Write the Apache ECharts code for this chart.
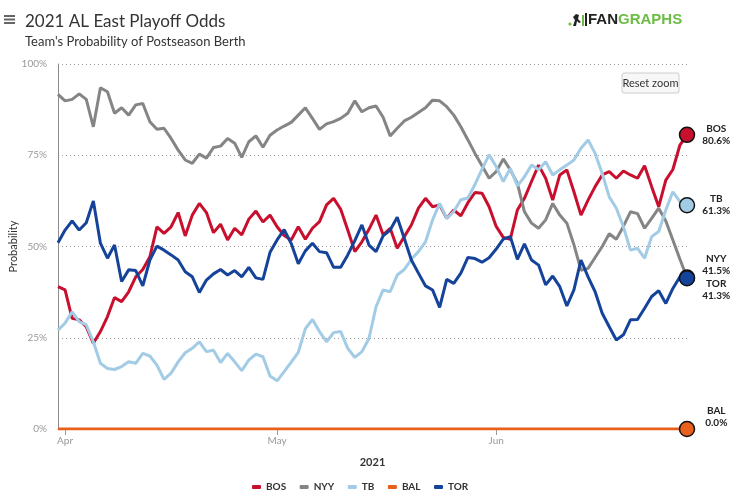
<!DOCTYPE html>
<html><head><meta charset="utf-8">
<script src="https://cdn.jsdelivr.net/npm/echarts@6/dist/echarts.min.js"></script>
<style>html,body{margin:0;padding:0;background:#fff}#c{width:750px;height:504px}</style>
</head><body><div id="c"></div><script>
// Daily playoff odds (%), Mar 31 .. Jun 28, 2021
const firstDay = [2021, 2, 31];
const tickDates = ['2021-04-01', '2021-05-01', '2021-06-01'];
const tickLabels = ['Apr', 'May', 'Jun'];
const teams = ['BOS', 'NYY', 'TB', 'BAL', 'TOR'];
const bos = [39.0,38.1,30.3,29.9,28.0,23.5,26.7,30.8,36.0,34.9,37.6,41.7,43.7,47.2,55.4,53.6,55.4,59.3,52.9,58.6,61.8,59.3,53.8,56.1,51.8,55.0,53.2,57.5,59.7,56.7,58.6,55.4,53.0,51.8,55.4,52.0,55.0,56.8,61.4,63.2,60.2,54.5,48.6,51.3,54.7,58.6,53.2,55.0,49.5,52.7,55.9,60.5,63.2,60.9,61.4,57.7,60.0,58.4,62.0,64.8,64.6,60.9,55.5,52.5,52.0,60.0,63.2,67.8,72.3,68.7,62.7,69.6,71.0,65.0,58.6,62.7,66.4,69.6,70.5,68.7,70.7,69.6,68.7,72.1,66.4,60.9,68.2,71.1,77.8,80.6];
const nyy = [91.7,89.9,90.3,91.8,90.3,82.8,93.5,92.4,86.5,88.0,86.0,88.8,89.2,84.2,82.1,82.4,79.6,76.4,73.7,72.8,75.3,74.2,77.1,77.5,79.6,78.3,74.4,78.7,80.3,77.2,80.5,81.9,83.0,84.0,86.0,88.0,85.1,82.1,83.6,84.2,85.1,86.5,89.9,86.9,88.0,88.5,85.4,80.3,82.4,84.4,85.4,86.7,88.0,90.1,89.9,88.3,86.0,82.8,79.2,75.5,72.1,68.7,70.5,74.0,71.0,67.3,59.5,56.4,55.0,57.3,61.8,58.6,56.4,50.5,43.5,44.0,47.0,50.0,53.5,52.0,55.5,59.5,59.0,55.0,57.7,60.5,57.0,51.8,46.5,41.5];
const tb = [27.1,29.0,32.1,29.4,28.5,23.9,18.0,16.6,16.3,17.1,18.4,18.0,20.7,20.0,17.5,13.6,15.3,18.4,20.9,22.1,23.9,21.2,21.6,18.2,20.7,18.4,16.0,18.9,20.5,19.8,14.5,13.2,15.7,18.3,21.0,27.5,30.0,26.7,23.9,26.4,26.7,22.1,19.6,21.2,24.8,33.5,38.1,37.6,42.2,43.7,46.5,48.6,51.3,57.3,61.8,57.7,59.6,62.8,63.3,67.0,71.2,75.1,71.9,67.8,71.4,66.6,69.1,72.3,71.0,73.2,69.6,71.0,72.3,73.7,76.9,79.2,75.5,70.0,63.6,60.5,55.4,49.0,49.5,46.8,52.7,54.1,60.0,65.0,62.3,61.3];
const bal = [0,0,0,0,0,0,0,0,0,0,0,0,0,0,0,0,0,0,0,0,0,0,0,0,0,0,0,0,0,0,0,0,0,0,0,0,0,0,0,0,0,0,0,0,0,0,0,0,0,0,0,0,0,0,0,0,0,0,0,0,0,0,0,0,0,0,0,0,0,0,0,0,0,0,0,0,0,0,0,0,0,0,0,0,0,0,0,0,0,0];
const tor = [51.0,54.5,57.0,54.5,56.5,62.5,50.9,46.8,50.4,40.4,43.6,43.4,39.2,46.3,50.1,49.0,47.7,46.3,43.1,41.7,37.4,40.8,42.5,43.7,42.2,43.4,41.7,44.3,41.4,41.0,48.4,51.8,54.6,50.8,45.3,48.8,50.9,48.6,48.3,44.3,44.3,47.7,51.6,55.9,50.4,48.6,52.9,54.5,58.0,52.2,46.3,42.7,39.2,38.1,33.3,41.0,39.9,42.7,47.0,46.7,45.7,46.9,49.3,52.0,52.7,46.5,50.7,46.3,44.9,39.5,41.9,39.0,33.7,38.1,46.3,41.7,37.6,31.7,28.0,24.4,25.8,29.9,30.0,33.1,36.3,37.9,34.4,38.5,41.7,41.3];

const dates = [];
for (let d = new Date(Date.UTC(firstDay[0], firstDay[1], firstDay[2])); dates.length < bos.length; d.setUTCDate(d.getUTCDate() + 1)) {
  dates.push(d.toISOString().slice(0, 10));
}

const colors = { BOS: '#c8102e', NYY: '#858585', TB: '#a2cbe6', BAL: '#e8601c', TOR: '#15439a' };
const labelOffsets = { BOS: 0, NYY: -13, TB: 0, BAL: -12, TOR: 12 };
const values = { BOS: bos, NYY: nyy, TB: tb, BAL: bal, TOR: tor };

function mkSeries(name) {
  const arr = values[name];
  const last = arr.length - 1;
  const color = colors[name];
  return {
    name, type: 'line',
    symbol: 'none', showSymbol: true, showAllSymbol: true,
    lineStyle: { color, width: 3 },
    itemStyle: { color },
    emphasis: { disabled: true },
    data: arr.map((v, i) => i === last ? {
      value: v, symbol: 'circle', symbolSize: 15,
      itemStyle: { color, borderColor: '#111', borderWidth: 1.5 },
      label: {
        show: true, position: 'right', distance: 6, offset: [0, labelOffsets[name]],
        formatter: '{a|' + name + '}\n{a|' + v.toFixed(1) + '%}',
        rich: { a: { width: 30, align: 'center', fontSize: 10, fontWeight: 'bold', lineHeight: 12, color: '#222', fontFamily: 'Lato' } }
      }
    } : v)
  };
}

const chart = echarts.init(document.getElementById('c'), null, { renderer: 'canvas' });
chart.setOption({
  animation: false,
  backgroundColor: '#fff',
  textStyle: { fontFamily: 'Lato' },
  grid: { left: 58, right: 63, top: 64, bottom: 75, containLabel: false, outerBoundsMode: 'none' },
  legend: {
    data: teams, left: 247, top: 477, icon: 'roundRect', itemWidth: 9, itemHeight: 4, itemGap: 13.5,
    textStyle: { fontSize: 10, fontWeight: 'bold', color: '#333', fontFamily: 'Lato' }
  },
  xAxis: {
    type: 'category', data: dates, boundaryGap: false,
    name: '2021', nameLocation: 'middle', nameGap: 28, nameMoveOverlap: false,
    nameTextStyle: { fontSize: 11, fontWeight: 'bold', color: '#333' },
    axisLine: { show: true, lineStyle: { color: '#999', width: 1 } },
    axisTick: { show: true, length: 6, lineStyle: { color: '#999' }, interval: (i, v) => tickDates.includes(v) },
    axisLabel: { interval: (i, v) => tickDates.includes(v), formatter: v => tickLabels[tickDates.indexOf(v)] || '', color: '#999', fontSize: 10, margin: 7 },
    splitLine: { show: false }
  },
  yAxis: {
    type: 'value', min: 0, max: 100, interval: 25,
    name: 'Probability', nameLocation: 'middle', nameGap: 39, nameRotate: 90, nameMoveOverlap: false,
    nameTextStyle: { fontSize: 11, color: '#333' },
    axisLine: { show: true, lineStyle: { color: '#8c8c8c', width: 1 } },
    axisTick: { show: false },
    axisLabel: { formatter: '{value}%', color: '#999', fontSize: 10, margin: 11 },
    splitLine: { show: true, lineStyle: { type: [1, 3], color: '#999', width: 1 } }
  },
  series: teams.map(mkSeries),
  graphic: [
    { type: 'rect', shape: { x: 4, y: 15, width: 11, height: 2 }, style: { fill: '#666' } },
    { type: 'rect', shape: { x: 4, y: 18.5, width: 11, height: 2 }, style: { fill: '#666' } },
    { type: 'rect', shape: { x: 4, y: 22, width: 11, height: 2 }, style: { fill: '#666' } },
    { type: 'text', style: { x: 25, y: 22, text: '2021 AL East Playoff Odds', font: '17px Lato', fill: '#333', verticalAlign: 'middle' } },
    { type: 'text', style: { x: 25, y: 41.5, text: "Team's Probability of Postseason Berth", font: '13px Lato', fill: '#333', verticalAlign: 'middle' } },
    // FanGraphs logo
    { type: 'circle', shape: { cx: 570, cy: 24, r: 1.6 }, style: { fill: '#6dbd45' } },
    { type: 'polygon', shape: { points: [[573,26],[575,20],[573,17],[576,14],[579,15],[578,19],[581,22],[579,23],[577,21],[576,26]] }, style: { fill: '#222' } },
    { type: 'rect', shape: { x: 582, y: 15, width: 2, height: 11 }, style: { fill: '#6dbd45' } },
    { type: 'rect', shape: { x: 585, y: 13, width: 2, height: 13 }, style: { fill: '#222' } },
    { type: 'text', style: { x: 588, y: 20, text: '{f|FAN}{g|GRAPHS}', verticalAlign: 'middle',
      rich: { f: { font: 'bold 15px "Liberation Sans"', fill: '#222' }, g: { font: 'bold 15px "Liberation Sans"', fill: '#6dbd45' } } } },
    // Reset zoom button
    { type: 'rect', shape: { x: 622, y: 73, width: 57, height: 20, r: 2 }, style: { fill: '#f7f7f7', stroke: '#cccccc', lineWidth: 1 } },
    { type: 'text', style: { x: 650.5, y: 83, text: 'Reset zoom', font: '11px Lato', fill: '#333', align: 'center', verticalAlign: 'middle' } }
  ]
});
</script></body></html>
